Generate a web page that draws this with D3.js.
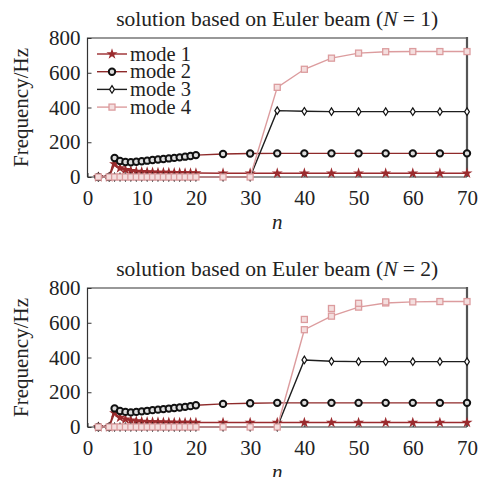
<!DOCTYPE html>
<html>
<head>
<meta charset="utf-8">
<script src="https://cdn.jsdelivr.net/npm/d3@7"></script>
<style>
  body { margin: 0; background: #fff; }
  svg { display: block; }
  text { font-family: "Liberation Serif", "Times New Roman", serif; fill: #222; }
</style>
</head>
<body>
<svg id="chart" width="481" height="477"></svg>
<script>
// harmonic number n
var nValues = [2, 4, 5, 6, 7, 8, 9, 10, 11, 12, 13, 14, 15, 16, 17, 18, 19, 20, 25, 30, 35, 40, 45, 50, 55, 60, 65, 70];

// N = 1
var n1Mode1 = [0, 0, 75, 52, 42, 36, 32, 30, 28, 27, 26, 25, 25, 24, 24, 23, 23, 23, 22, 22, 22, 22, 22, 22, 22, 22, 22, 22];
var n1Mode2 = [0, 0, 109, 92, 86, 85, 88, 91, 94, 98, 101, 104, 107, 110, 113, 117, 121, 126, 132, 135, 136, 136, 136, 136, 136, 136, 136, 136];
var n1Mode3 = [0, 0, 0, 0, 0, 0, 0, 0, 0, 0, 0, 0, 0, 0, 0, 0, 0, 0, 0, 0, 382, 378, 376, 376, 376, 376, 376, 376];
var n1Mode4 = [0, 0, 0, 0, 0, 0, 0, 0, 0, 0, 0, 0, 0, 0, 0, 0, 0, 0, 0, 0, 516, 620, 684, 713, 721, 722, 722, 722];

// N = 2
var n2Mode1 = [0, 0, 80, 55, 45, 38, 34, 31, 30, 29, 28, 27, 27, 26, 26, 26, 26, 26, 26, 26, 26, 26, 26, 26, 26, 26, 26, 26];
var n2Mode2 = [0, 0, 107, 92, 87, 84, 87, 90, 93, 97, 100, 103, 106, 109, 112, 116, 120, 125, 133, 137, 139, 139, 139, 139, 139, 139, 139, 139];
var n2Mode3 = [0, 0, 0, 0, 0, 0, 0, 0, 0, 0, 0, 0, 0, 0, 0, 0, 0, 0, 0, 0, 0, 386, 378, 376, 376, 376, 376, 376];
var n2Mode4 = [0, 0, 0, 0, 0, 0, 0, 0, 0, 0, 0, 0, 0, 0, 0, 0, 0, 0, 0, 0, 0, 560, 638, 690, 714, 720, 722, 722];
// extra unconnected mode 4 markers in the N = 2 panel
var n2Mode4bN = [40, 45, 50, 55];
var n2Mode4b = [619, 682, 712, 720];

var xTicks = [0, 10, 20, 30, 40, 50, 60, 70];
var yTicks = [0, 200, 400, 600, 800];
var modeNames = ["mode 1", "mode 2", "mode 3", "mode 4"];

var styles = [
    {line: "#9b2b2e", marker: "star"},
    {line: "#8e2a2a", marker: "circle"},
    {line: "#1e1e1e", marker: "diamond"},
    {line: "#dc9c9e", marker: "square"}
];

var svg = d3.select("#chart");
var margin = {left: 87.5, right: 467};

function drawMarker(g, type, x, y) {
    if (type == "star") {
        g.append("path")
            .attr("d", d3.symbol(d3.symbolStar, 38)())
            .attr("transform", "translate(" + x + "," + y + ")")
            .attr("fill", "#9b2b2e");
    } else if (type == "circle") {
        g.append("circle").attr("cx", x).attr("cy", y).attr("r", 3.2)
            .attr("fill", "#ddd").attr("stroke", "#111").attr("stroke-width", 2);
    } else if (type == "diamond") {
        g.append("path")
            .attr("d", "M0,-3.8L2.4,0L0,3.8L-2.4,0Z")
            .attr("transform", "translate(" + x + "," + y + ")")
            .attr("fill", "#fff").attr("stroke", "#111").attr("stroke-width", 1.2);
    } else {
        g.append("rect").attr("x", x - 3).attr("y", y - 3).attr("width", 6).attr("height", 6)
            .attr("fill", "#f4dede").attr("stroke", "#dc9c9e").attr("stroke-width", 1.3);
    }
}

function panel(top, bottom, title, series, extra, legend) {
    var g = svg.append("g");

    var xScale = d3.scaleLinear().domain([0, 70]).range([margin.left, margin.right]);
    var yScale = d3.scaleLinear().domain([0, 800]).range([bottom, top]);

    // title
    g.append("text")
        .attr("x", (margin.left + margin.right) / 2)
        .attr("y", top - 12)
        .attr("text-anchor", "middle")
        .attr("font-size", 21.5)
        .html(title);

    // axes
    var xAxis = d3.axisBottom(xScale).tickValues(xTicks).tickSizeInner(-4).tickSizeOuter(0).tickPadding(13);
    var yAxis = d3.axisLeft(yScale).tickValues(yTicks).tickSizeInner(-4).tickSizeOuter(0).tickPadding(7);

    var xg = g.append("g").attr("transform", "translate(0," + bottom + ")").call(xAxis);
    var yg = g.append("g").attr("transform", "translate(" + margin.left + ",0)").call(yAxis);
    [xg, yg].forEach(function (a) {
        a.select(".domain").remove();
        a.selectAll("line").attr("stroke", "#333");
        a.selectAll("text").attr("font-size", 21).attr("fill", "#222");
    });

    // frame
    g.append("path")
        .attr("d", "M" + margin.left + "," + bottom + "V" + top + "H" + margin.right)
        .attr("fill", "none").attr("stroke", "#333").attr("stroke-width", 1.2);
    g.append("line")
        .attr("x1", margin.left).attr("x2", margin.right).attr("y1", bottom).attr("y2", bottom)
        .attr("stroke", "#333").attr("stroke-width", 1.2);
    g.append("line")
        .attr("x1", margin.right).attr("x2", margin.right).attr("y1", top - 1).attr("y2", bottom)
        .attr("stroke", "#555").attr("stroke-width", 2.2);

    // axis labels
    g.append("text")
        .attr("transform", "translate(28," + (top + bottom) / 2 + ") rotate(-90)")
        .attr("text-anchor", "middle")
        .attr("font-size", 21)
        .text("Frequency/Hz");
    g.append("text")
        .attr("x", (margin.left + margin.right) / 2)
        .attr("y", bottom + 52)
        .attr("text-anchor", "middle")
        .attr("font-size", 21)
        .attr("font-style", "italic")
        .text("n");

    var line = d3.line()
        .x(function (d) { return xScale(d[0]); })
        .y(function (d) { return yScale(d[1]); });

    series.forEach(function (vals, i) {
        var pts = nValues.map(function (n, j) { return [n, vals[j]]; });
        g.append("path")
            .attr("d", line(pts))
            .attr("fill", "none")
            .attr("stroke", styles[i].line)
            .attr("stroke-width", 1.4);
        pts.forEach(function (p) {
            drawMarker(g, styles[i].marker, xScale(p[0]), yScale(p[1]));
        });
    });

    if (extra) {
        extra[0].forEach(function (n, j) {
            drawMarker(g, "square", xScale(n), yScale(extra[1][j]));
        });
    }

    if (legend) {
        modeNames.forEach(function (name, i) {
            var y = top + 16 + i * 17.7;
            g.append("line")
                .attr("x1", 97).attr("x2", 127).attr("y1", y).attr("y2", y)
                .attr("stroke", styles[i].line).attr("stroke-width", 1.4);
            drawMarker(g, styles[i].marker, 112, y);
            g.append("text")
                .attr("x", 130).attr("y", y + 6.5)
                .attr("font-size", 20.5)
                .text(name);
        });
    }
}

panel(38, 177, 'solution based on Euler beam (<tspan font-style="italic">N</tspan> = 1)',
    [n1Mode1, n1Mode2, n1Mode3, n1Mode4], null, true);
panel(288, 427, 'solution based on Euler beam (<tspan font-style="italic">N</tspan> = 2)',
    [n2Mode1, n2Mode2, n2Mode3, n2Mode4], [n2Mode4bN, n2Mode4b], false);
</script>
</body>
</html>
